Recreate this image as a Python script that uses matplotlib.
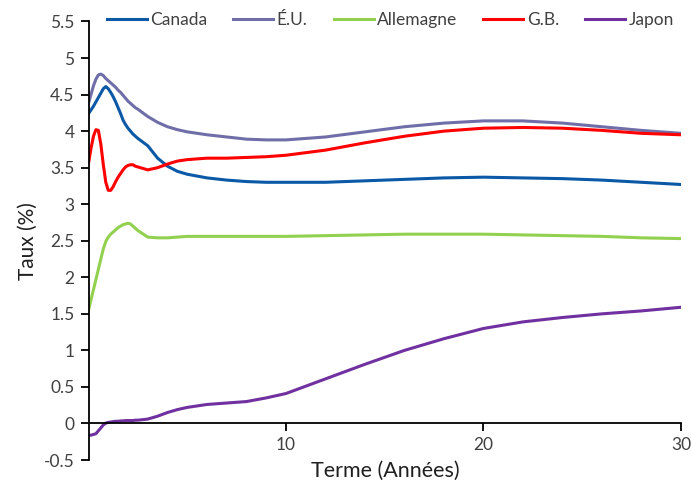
import matplotlib.pyplot as plt
from matplotlib.ticker import FuncFormatter

plt.rcParams['font.family'] = ['Lato', 'DejaVu Sans']

# terme en années
terme = [0, 0.125, 0.25, 0.375, 0.5, 0.625, 0.75, 0.875, 1.0, 1.125, 1.25,
         1.375, 1.5, 1.625, 1.75, 1.875, 2.0, 2.125, 2.25, 2.375, 2.5,
         3, 3.5, 4, 4.5, 5, 6, 7, 8, 9, 10, 12, 14, 16, 18, 20, 22, 24, 26, 28, 30]

canada = [4.24, 4.29, 4.34, 4.40, 4.46, 4.52, 4.58, 4.61, 4.58, 4.53, 4.47,
          4.40, 4.32, 4.24, 4.15, 4.09, 4.04, 4.00, 3.96, 3.93, 3.90,
          3.80, 3.63, 3.52, 3.45, 3.41, 3.36, 3.33, 3.31, 3.30, 3.30, 3.30, 3.32,
          3.34, 3.36, 3.37, 3.36, 3.35, 3.33, 3.30, 3.27]

eu = [4.38, 4.50, 4.62, 4.71, 4.77, 4.78, 4.76, 4.72, 4.69, 4.66, 4.63,
      4.60, 4.56, 4.53, 4.49, 4.45, 4.41, 4.38, 4.35, 4.32, 4.30,
      4.20, 4.12, 4.06, 4.02, 3.99, 3.95, 3.92, 3.89, 3.88, 3.88, 3.92, 3.99,
      4.06, 4.11, 4.14, 4.14, 4.11, 4.06, 4.01, 3.97]

allemagne = [1.55, 1.69, 1.83, 1.97, 2.11, 2.25, 2.39, 2.49, 2.55, 2.59, 2.62,
             2.65, 2.68, 2.70, 2.72, 2.73, 2.74, 2.73, 2.70, 2.67, 2.64,
             2.55, 2.54, 2.54, 2.55, 2.56, 2.56, 2.56, 2.56, 2.56, 2.56, 2.57, 2.58,
             2.59, 2.59, 2.59, 2.58, 2.57, 2.56, 2.54, 2.53]

gb = [3.56, 3.76, 3.93, 4.02, 4.01, 3.82, 3.54, 3.30, 3.19, 3.19, 3.24,
      3.31, 3.37, 3.42, 3.47, 3.51, 3.53, 3.54, 3.54, 3.52, 3.51,
      3.47, 3.50, 3.55, 3.59, 3.61, 3.63, 3.63, 3.64, 3.65, 3.67, 3.74, 3.84,
      3.93, 4.00, 4.04, 4.05, 4.04, 4.01, 3.97, 3.95]

japon = [-0.165, -0.16, -0.15, -0.14, -0.10, -0.06, -0.02, 0.005, 0.015, 0.02, 0.025,
         0.03, 0.03, 0.035, 0.035, 0.04, 0.04, 0.04, 0.04, 0.045, 0.045,
         0.06, 0.10, 0.15, 0.19, 0.22, 0.26, 0.28, 0.30, 0.35, 0.41, 0.61, 0.81,
         1.00, 1.16, 1.30, 1.39, 1.45, 1.50, 1.54, 1.59]

fig = plt.figure(figsize=(6.92, 4.82), dpi=100)
ax = fig.add_axes([0.1279, 0.0456, 0.8561, 0.9098])

ax.plot(terme, canada, color='#0A58A6', lw=2.2, label='Canada')
ax.plot(terme, eu, color='#6F6EA8', lw=2.2, label='É.U.')
ax.plot(terme, allemagne, color='#92D050', lw=2.2, label='Allemagne')
ax.plot(terme, gb, color='#FF0000', lw=2.2, label='G.B.')
ax.plot(terme, japon, color='#7030A0', lw=2.2, label='Japon')

ax.set_xlim(0, 30)
ax.set_ylim(-0.5, 5.5)
ax.set_yticks([-0.5 + 0.5 * i for i in range(13)])
ax.set_xticks([10, 20, 30])
ax.yaxis.set_major_formatter(FuncFormatter(lambda v, p: '%g' % v))

ax.spines['top'].set_visible(False)
ax.spines['right'].set_visible(False)
ax.spines['bottom'].set_position(('data', 0))
ax.spines['left'].set_linewidth(1.3)
ax.spines['bottom'].set_linewidth(1.3)
ax.tick_params(axis='both', direction='out', length=6, width=1.3,
               labelsize=12.5, labelcolor='#404040')
ax.tick_params(axis='y', pad=4)
ax.tick_params(axis='x', pad=4)

ax.set_ylabel('Taux (%)', fontsize=15, color='#202020', labelpad=4)
fig.text(0.557, 0.024, 'Terme (Années)', fontsize=15.5, color='#202020',
         ha='center', va='center')

ax.legend(loc='center', bbox_to_anchor=(0.564, 0.958), bbox_transform=fig.transFigure,
          ncol=5, frameon=False, fontsize=12.5, handlelength=2.3, handletextpad=0.2,
          columnspacing=1.5, labelcolor='#404040')

plt.savefig('out.png', dpi=100)
